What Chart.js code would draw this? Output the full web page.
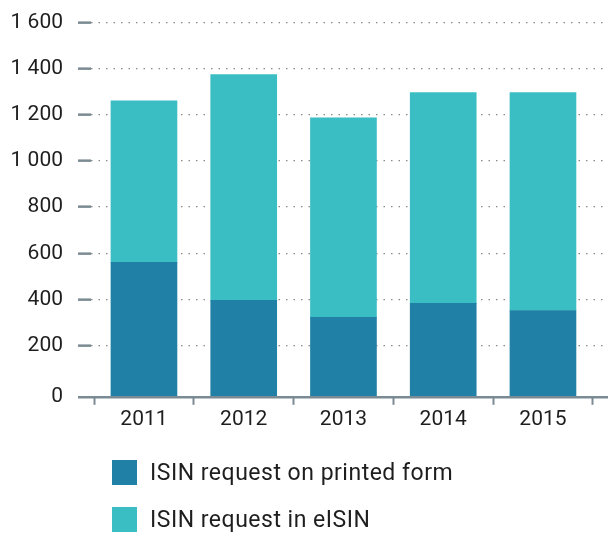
<!DOCTYPE html>
<html>
<head>
<meta charset="utf-8">
<script src="https://cdn.jsdelivr.net/npm/chart.js@4/dist/chart.umd.min.js"></script>
<style>
    body { margin: 0; background: #fff; }
    #wrap { position: relative; width: 608px; height: 534px; }
    #leyenda { position: absolute; left: 112px; top: 460px; font-family: Roboto, sans-serif; font-size: 23px; letter-spacing: 0.5px; color: #1e1e1e; }
    .item { display: flex; align-items: center; height: 25px; margin-bottom: 22px; }
    .caja { width: 25px; height: 25px; margin-right: 13px; }
</style>
</head>
<body>
<div id="wrap">
    <canvas id="isinStat" width="608" height="534"></canvas>
    <div id="leyenda"></div>
</div>
<script>
const years = ['2011', '2012', '2013', '2014', '2015'];
const printedForm = [561, 396, 322, 383, 352];
const eIsin = [700, 978, 865, 913, 944];
const yTicks = [0, 200, 400, 600, 800, 1000, 1200, 1400, 1600];
const seriesNames = ['ISIN request on printed form', 'ISIN request in eISIN'];

const colorOscuro = '#2180a5';
const colorClaro = '#3abec3';
const gris = '#7b8b93';
const yMin = -22; // axis line sits a bit under the 0 gridline

function formatear(v) {
    if (v < 0) return '0';
    if (v === 0) return '';
    return String(v).replace(/\B(?=(\d{3})+(?!\d))/g, ' ');
}

// value of the tick in a scriptable context (null for the scale itself)
function tv(c) {
    return (c && c.tick) ? c.tick.value : null;
}

let ctx = document.getElementById('isinStat');
let grafico = new Chart(ctx, {
    type: 'bar',
    data: {
        datasets: [{
            label: seriesNames[0],
            data: printedForm.map((v, i) => ({x: i, y: v})),
            backgroundColor: colorOscuro,
            base: yMin + 5
        }, {
            label: seriesNames[1],
            data: eIsin.map((v, i) => ({x: i, y: v})),
            backgroundColor: colorClaro
        }]
    },
    options: {
        responsive: false,
        animation: false,
        barThickness: 66,
        layout: { padding: { top: 22.5, left: 11, right: 0, bottom: 100 } },
        plugins: { legend: { display: false }, tooltip: { enabled: false } },
        scales: {
            x: {
                type: 'linear',
                stacked: true,
                offset: false,
                min: -0.531,
                max: 4.652,
                afterBuildTicks: function (axis) {
                    let t = [];
                    for (let i = -0.5; i <= years.length - 0.5; i += 0.5) t.push({value: i});
                    axis.ticks = t;
                },
                ticks: {
                    autoSkip: false,
                    maxRotation: 0,
                    padding: 2,
                    color: '#1e1e1e',
                    font: { family: 'Roboto', size: 21, lineHeight: 1.2 },
                    callback: function (v) { return Number.isInteger(v) ? years[v] : ''; }
                },
                grid: {
                    offset: false,
                    drawOnChartArea: false,
                    tickLength: 8,
                    tickWidth: 2,
                    tickColor: function (c) { return Number.isInteger(tv(c)) ? 'rgba(0,0,0,0)' : gris; }
                },
                border: { display: false }
            },
            y: {
                stacked: true,
                min: yMin,
                max: 1600,
                afterBuildTicks: function (axis) {
                    axis.ticks = [yMin].concat(yTicks).map(v => ({value: v}));
                },
                afterFit: function (axis) {
                    axis.width = 80;
                    axis.paddingTop = 0;
                    axis.paddingBottom = 0;
                },
                ticks: {
                    padding: 15,
                    color: '#1e1e1e',
                    font: { family: 'Roboto', size: 21 },
                    callback: formatear
                },
                grid: {
                    tickLength: 13,
                    tickWidth: 2.5,
                    color: function (c) {
                        let v = tv(c);
                        if (v === null) return '#8a8a8a';
                        if (v < 0) return gris;
                        if (v === 0) return 'rgba(0,0,0,0)';
                        return '#8a8a8a';
                    },
                    lineWidth: function (c) { let v = tv(c); return (v !== null && v < 0) ? 2.5 : 1.3; },
                    tickColor: function (c) { return tv(c) === 0 ? 'rgba(0,0,0,0)' : gris; }
                },
                border: {
                    display: false,
                    dash: function (c) { let v = tv(c); return (v !== null && v < 0) ? [] : [1.5, 6]; }
                }
            }
        }
    }
});

// legend below, one item per row
let leyenda = document.getElementById('leyenda');
grafico.data.datasets.forEach(function (ds) {
    let item = document.createElement('div');
    item.className = 'item';
    let caja = document.createElement('div');
    caja.className = 'caja';
    caja.style.background = ds.backgroundColor;
    let txt = document.createElement('span');
    txt.textContent = ds.label;
    item.appendChild(caja);
    item.appendChild(txt);
    leyenda.appendChild(item);
});
</script>
</body>
</html>
